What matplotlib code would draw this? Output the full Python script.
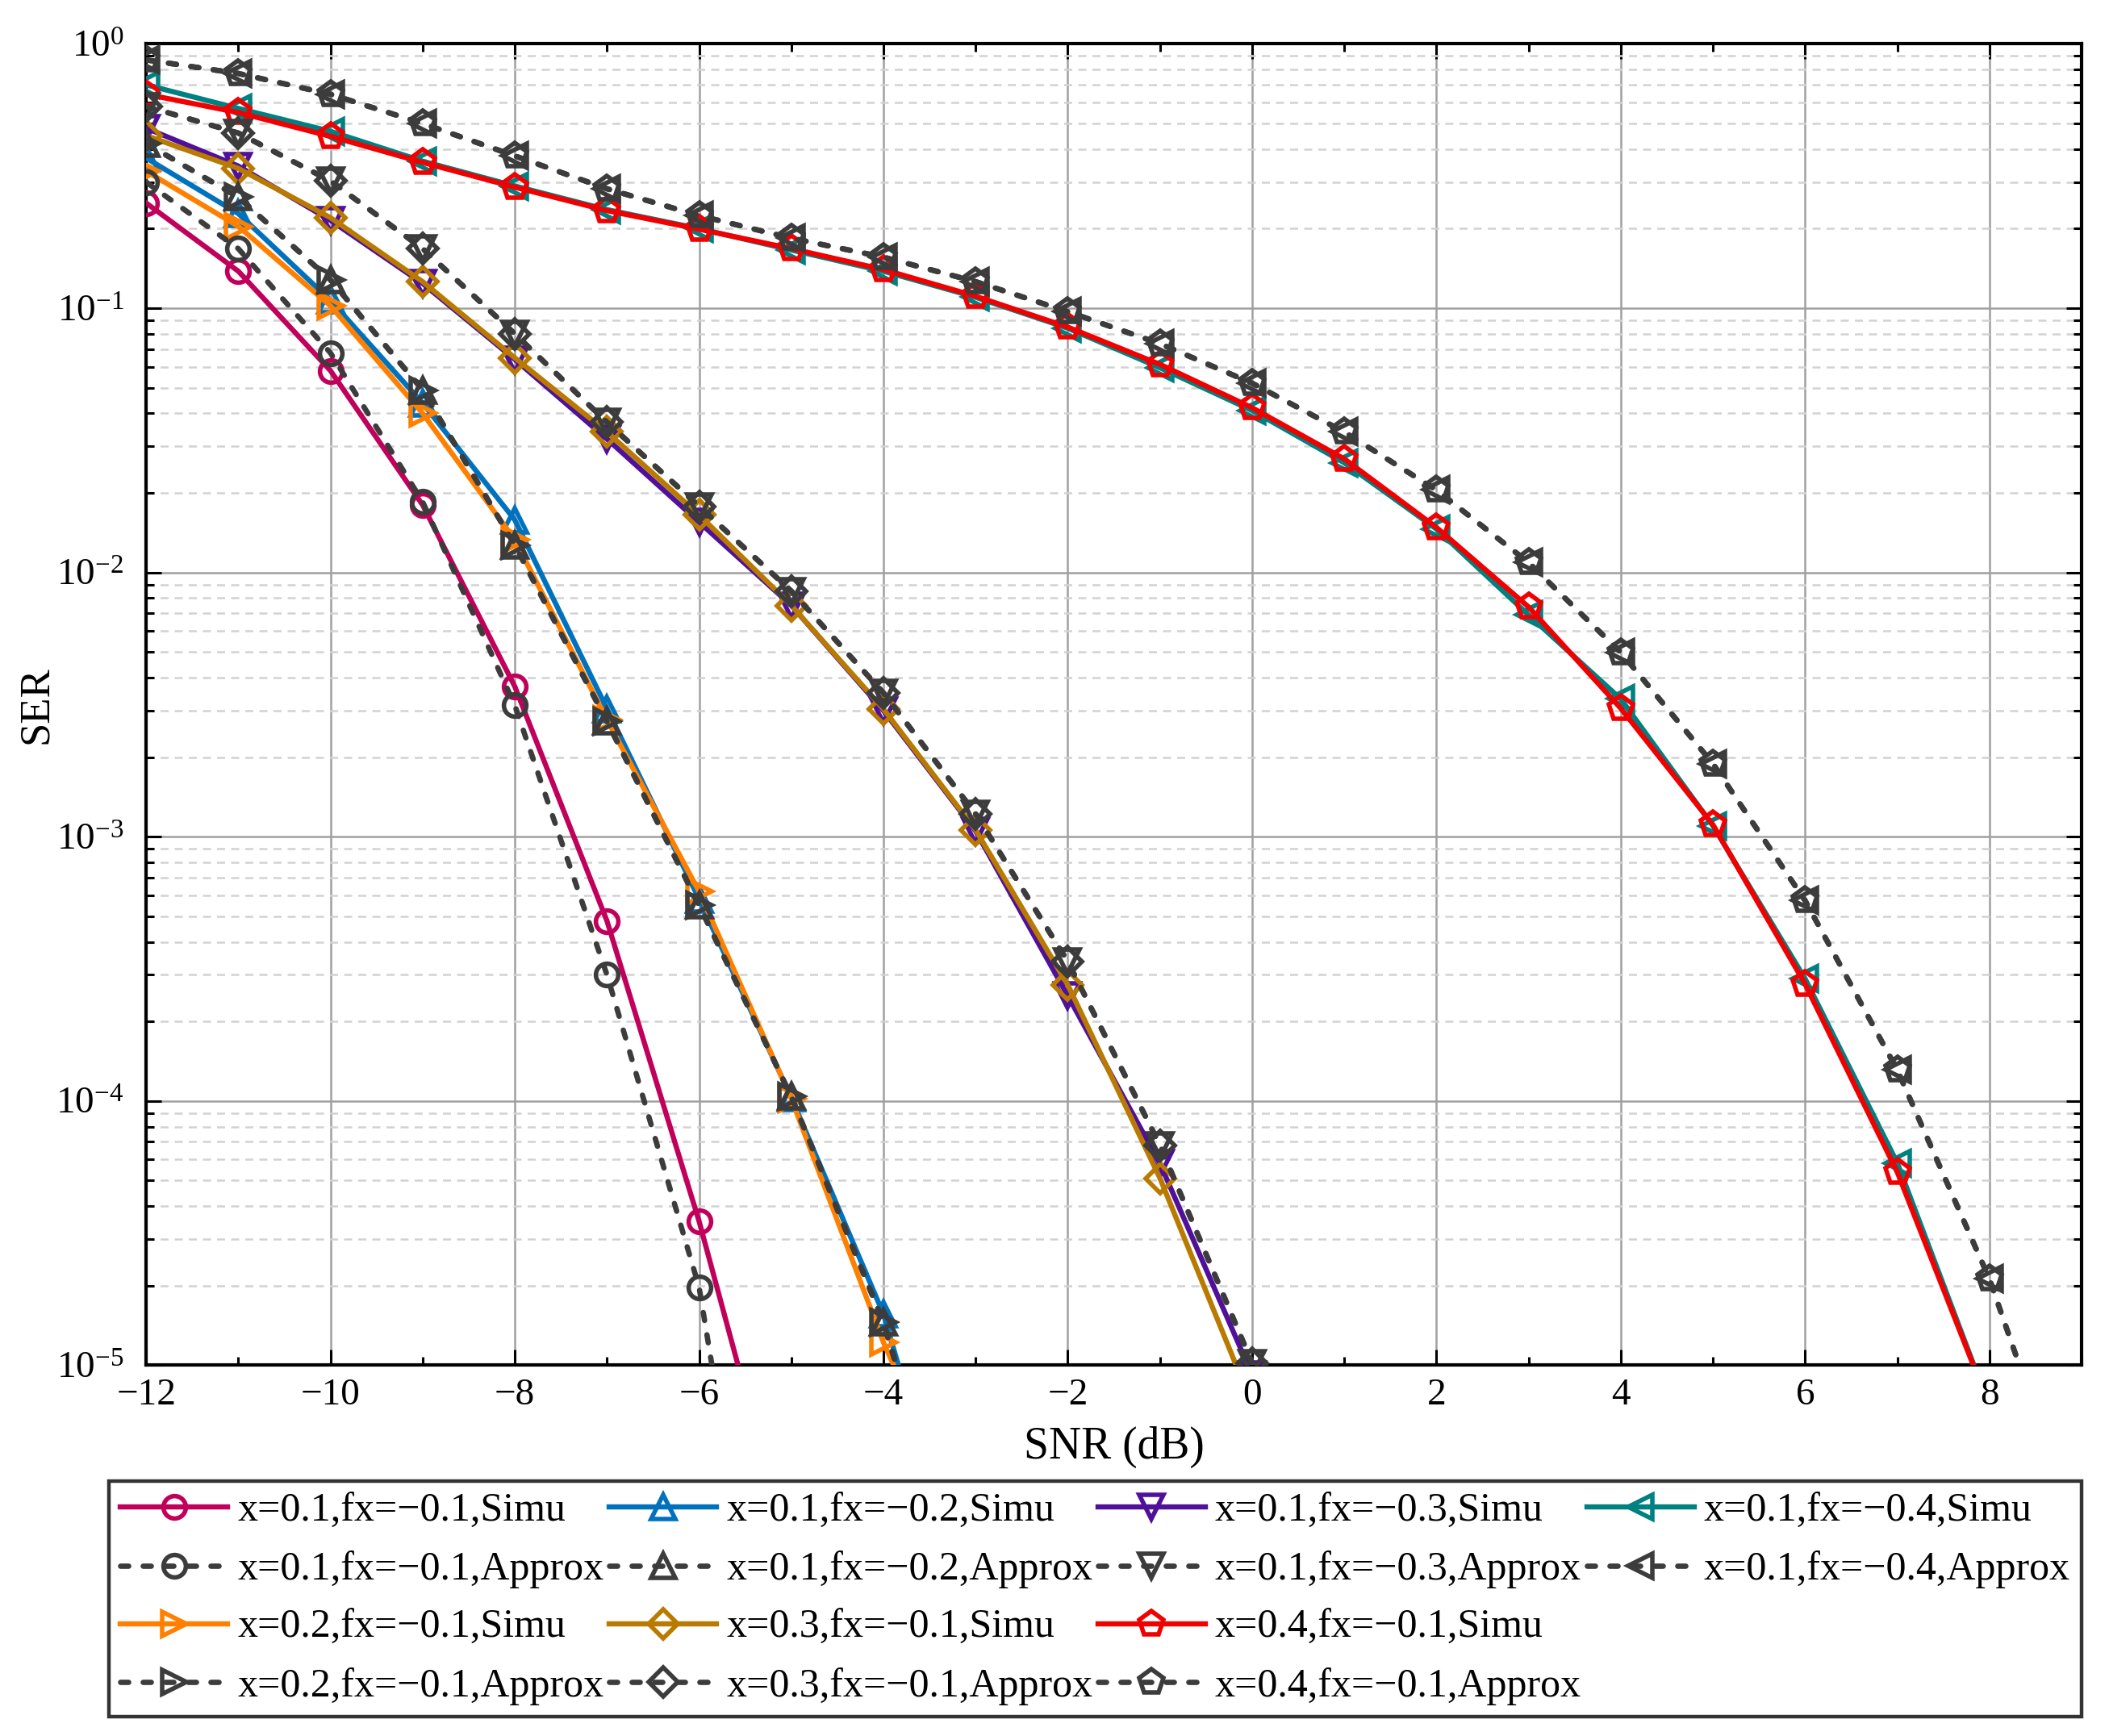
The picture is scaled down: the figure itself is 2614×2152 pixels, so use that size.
import numpy as np
import matplotlib
matplotlib.use("Agg")
import matplotlib.pyplot as plt
from matplotlib.lines import Line2D
from matplotlib.ticker import MultipleLocator, LogLocator, NullFormatter, LogFormatterMathtext

plt.rcParams['font.family'] = ['Liberation Serif', 'DejaVu Serif']
plt.rcParams['mathtext.fontset'] = 'custom'
plt.rcParams['mathtext.rm'] = 'Liberation Serif'
plt.rcParams['mathtext.it'] = 'Liberation Serif:italic'

# ---------------- data ----------------
snr = list(range(-12, 10))

# x=0.1, fx=-0.1
simu_01_01 = [0.25, 0.138, 0.058, 0.018, 3.7e-3, 4.8e-4, 3.5e-5, 1.8e-6]
appr_01_01 = [0.30, 0.168, 0.0677, 0.0185, 3.14e-3, 3.0e-4, 1.97e-5, 1.5e-7]
# x=0.1, fx=-0.2  /  x=0.2, fx=-0.1
simu_01_02 = [0.37, 0.228, 0.107, 0.0437, 0.0158, 3.05e-3, 5.8e-4, 1.03e-4, 1.56e-5, 1.0e-6]
appr_01_02 = [0.42, 0.263, 0.128, 0.049, 0.0127, 2.73e-3, 5.5e-4, 1.04e-4, 1.45e-5, 1.0e-6]
simu_02_01 = [0.33, 0.204, 0.102, 0.040, 0.0133, 2.77e-3, 6.2e-4, 1.02e-4, 1.22e-5, 2.0e-6]
appr_02_01 = appr_01_02
# x=0.1, fx=-0.3  /  x=0.3, fx=-0.1
simu_01_03 = [0.48, 0.345, 0.215, 0.124, 0.064, 0.032, 0.0155, 7.5e-3, 3.0e-3, 1.05e-3, 2.5e-4, 5.8e-5, 9.2e-6]
appr_01_03 = [0.58, 0.46, 0.303, 0.168, 0.080, 0.037, 0.0178, 8.5e-3, 3.5e-3, 1.22e-3, 3.37e-4, 6.8e-5, 1.02e-5, 1.2e-6]
simu_03_01 = [0.45, 0.338, 0.22, 0.126, 0.0649, 0.034, 0.0165, 7.5e-3, 3.04e-3, 1.06e-3, 2.75e-4, 5.1e-5, 7.1e-6]
appr_03_01 = appr_01_03
# x=0.1, fx=-0.4  /  x=0.4, fx=-0.1
simu_01_04 = [0.70, 0.57, 0.467, 0.36, 0.29, 0.236, 0.20, 0.166, 0.138, 0.110, 0.084, 0.0595, 0.041,
              0.026, 0.0146, 6.9e-3, 3.32e-3, 1.1e-3, 2.9e-4, 5.83e-5, 7.0e-6]
appr_01_04 = [0.87, 0.773, 0.645, 0.50, 0.377, 0.283, 0.224, 0.184, 0.156, 0.126, 0.097, 0.0734, 0.052,
              0.034, 0.0205, 0.0109, 4.98e-3, 1.89e-3, 5.73e-4, 1.31e-4, 2.12e-5, 2.1e-6]
simu_04_01 = [0.645, 0.55, 0.447, 0.356, 0.287, 0.234, 0.199, 0.168, 0.140, 0.111, 0.0848, 0.0613, 0.042,
              0.0269, 0.0148, 7.4e-3, 3.06e-3, 1.11e-3, 2.77e-4, 5.38e-5, 7.0e-6]
appr_04_01 = appr_01_04

labels = ["x=0.1,fx=\u22120.1", "x=0.1,fx=\u22120.2", "x=0.1,fx=\u22120.3", "x=0.1,fx=\u22120.4",
          "x=0.2,fx=\u22120.1", "x=0.3,fx=\u22120.1", "x=0.4,fx=\u22120.1"]
simu = [simu_01_01, simu_01_02, simu_01_03, simu_01_04, simu_02_01, simu_03_01, simu_04_01]
appr = [appr_01_01, appr_01_02, appr_01_03, appr_01_04, appr_02_01, appr_03_01, appr_04_01]
colors = ['#C0005A', '#0072BD', '#50109A', '#008080', '#FF8000', '#B87A00', '#F00000']
markers = ['o', '^', 'v', '<', '>', 'D', 'p']
msizes = [10, 10.5, 10.5, 10.5, 10.5, 9, 11.5]

# ---------------- figure ----------------
fig = plt.figure(figsize=(2614/200, 2152/200), dpi=200)
ax = fig.add_axes([0.0693, 0.2136, 0.9177, 0.7611])
ax.set_yscale('log')

dark = '#3C3C3C'
h_simu, h_appr = [], []
for i in range(7):
    n = len(simu[i])
    l1, = ax.plot(snr[:n], simu[i], color=colors[i], lw=2.3, marker=markers[i], ms=msizes[i],
                  mfc='none', mec=colors[i], mew=2.0, zorder=3,
                  label=labels[i] + ",Simu")
    m = len(appr[i])
    l2, = ax.plot(snr[:m], appr[i], color=dark, lw=2.4, ls=(0, (1.5, 2.7)), dash_capstyle='round',
                  marker=markers[i], ms=msizes[i], mfc='none', mec=dark, mew=2.0, zorder=4,
                  label=labels[i] + ",Approx")
    h_simu.append(l1)
    h_appr.append(l2)

ax.set_xlim(-12, 9)
ax.set_ylim(1e-5, 1)
ax.xaxis.set_major_locator(MultipleLocator(2))
ax.xaxis.set_minor_locator(MultipleLocator(1))
ax.yaxis.set_major_locator(LogLocator(base=10, numticks=10))
ax.yaxis.set_minor_locator(LogLocator(base=10, subs=np.arange(2, 10), numticks=20))
ax.yaxis.set_minor_formatter(NullFormatter())
ax.yaxis.set_major_formatter(LogFormatterMathtext())

ax.grid(True, which='major', axis='both', color='#A0A0A0', lw=0.9, ls='-', zorder=0)
ax.grid(True, which='minor', axis='y', color='#D2D2D2', lw=0.9, ls=(0, (4, 3)), zorder=0)
ax.set_axisbelow(True)

ax.tick_params(which='both', direction='in', top=True, right=True, labelsize=17, width=1.1)
ax.tick_params(which='major', length=7)
ax.tick_params(which='minor', length=3.6)
ax.tick_params(axis='x', which='major', pad=6)
ax.tick_params(axis='y', which='major', pad=10)
for s in ax.spines.values():
    s.set_linewidth(1.5)

ax.set_xlabel("SNR (dB)", fontsize=20, labelpad=6)
ax.set_ylabel("SER", fontsize=19, labelpad=0)

# legend: column-major order with 4 rows
blank = Line2D([], [], ls='none', marker=None)
order = [h_simu[0], h_appr[0], h_simu[4], h_appr[4],
         h_simu[1], h_appr[1], h_simu[5], h_appr[5],
         h_simu[2], h_appr[2], h_simu[6], h_appr[6],
         h_simu[3], h_appr[3], blank, blank]
labs = [h.get_label() if h is not blank else '' for h in order]
leg = fig.legend(order, labs, ncol=4, loc='upper left', bbox_to_anchor=(0.0517, 0.0, 0.9353, 0.1468),
                 mode='expand', fontsize=18, frameon=True, fancybox=False, edgecolor='black',
                 handlelength=2.66, handletextpad=0.24, columnspacing=0.1, labelspacing=0.51,
                 borderaxespad=0.0, borderpad=0.28)
leg.get_frame().set_linewidth(1.6)

fig.savefig("out.png", dpi=200)
